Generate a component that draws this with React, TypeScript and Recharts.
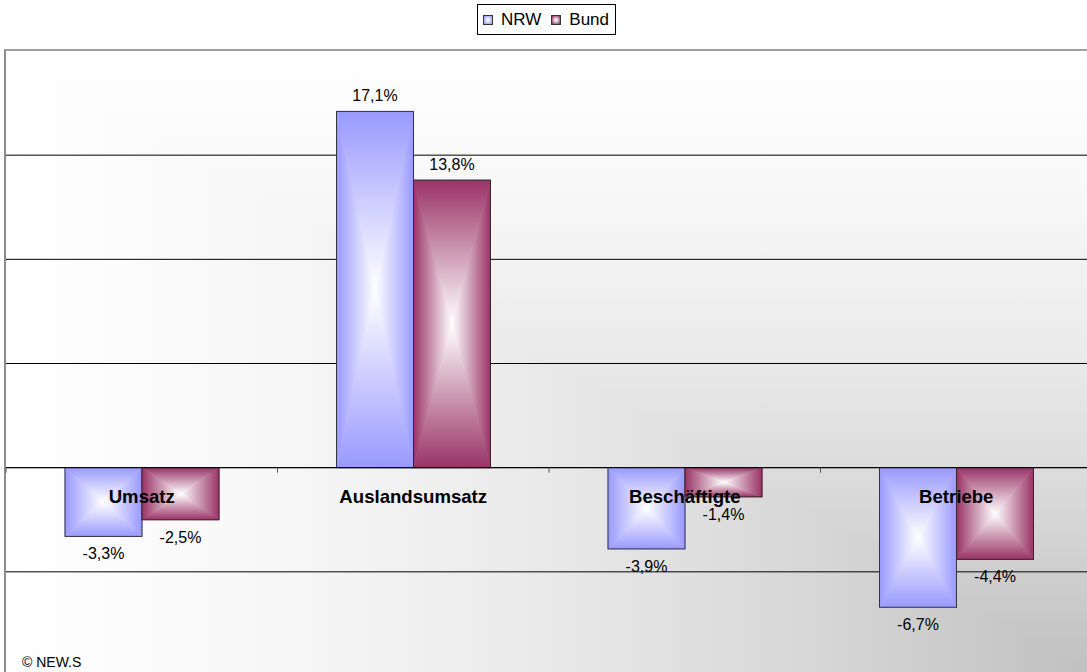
import React from 'react'
import {
  BarChart,
  Bar,
  XAxis,
  YAxis,
  CartesianGrid,
  ReferenceLine,
  LabelList,
} from 'recharts'

const categories = ['Umsatz', 'Auslandsumsatz', 'Beschäftigte', 'Betriebe']
const nrwValues = [-3.3, 17.1, -3.9, -6.7]
const bundValues = [-2.5, 13.8, -1.4, -4.4]
const seriesNames = ['NRW', 'Bund']
const yTicks = [-10, -5, 0, 5, 10, 15, 20]
const gridValues = [-5, 0, 5, 10, 15]

const COLORS: Record<string, string> = { NRW: '#9999ff', Bund: '#993366' }
const BORDERS: Record<string, string> = { NRW: '#333344', Bund: '#3a2430' }

const CHART_W = 1100
const CHART_H = 706
const XAXIS_H = 30
const MARGIN = { top: 51, left: 6, right: 8, bottom: 0 }
const PLOT_W = CHART_W - MARGIN.left - MARGIN.right
const PLOT_H = CHART_H - MARGIN.top - MARGIN.bottom - XAXIS_H
const Y_MIN = yTicks[0]
const Y_MAX = yTicks[yTicks.length - 1]
const ZERO_Y = MARGIN.top + (Y_MAX / (Y_MAX - Y_MIN)) * PLOT_H
const BAND = PLOT_W / categories.length
const FONT = '"Liberation Sans", Arial, sans-serif'

const chartData = categories.map((name, i) => ({
  name,
  NRW: nrwValues[i],
  Bund: bundValues[i],
}))

const fmt = (v: number) => v.toFixed(1).replace('.', ',') + '%'

// Excel-like "from center" fill: four triangles each with a linear gradient
function GradientBar(props: any) {
  const { x, y, width, height, series } = props
  if (width == null || height == null) return null
  const top = Math.min(y, y + height)
  const h = Math.abs(height)
  const cx = x + width / 2
  const cy = top + h / 2
  const id = series.toLowerCase()
  const tris = [
    { pts: `${x},${top} ${x + width},${top} ${cx},${cy}`, g: 't' },
    { pts: `${x},${top + h} ${x + width},${top + h} ${cx},${cy}`, g: 'b' },
    { pts: `${x},${top} ${x},${top + h} ${cx},${cy}`, g: 'l' },
    { pts: `${x + width},${top} ${x + width},${top + h} ${cx},${cy}`, g: 'r' },
  ]
  return (
    <g>
      {tris.map((t) => (
        <polygon
          key={t.g}
          points={t.pts}
          fill={`url(#${id}-${t.g})`}
          stroke={`url(#${id}-${t.g})`}
          strokeWidth={0.8}
        />
      ))}
      <rect x={x} y={top} width={width} height={h} fill="none" stroke={BORDERS[series]} strokeWidth={1} />
    </g>
  )
}

function ValueLabel(props: any) {
  const { x, y, width, height, value } = props
  const top = Math.min(y, y + height)
  const bottom = Math.max(y, y + height)
  const ty = value >= 0 ? top - 10 : bottom + 23
  return (
    <text x={x + width / 2} y={ty} textAnchor="middle" fontSize={16} fill="#000" fontFamily={FONT}>
      {fmt(value)}
    </text>
  )
}

function CategoryTick(props: any) {
  const { x, payload } = props
  return (
    <g>
      <line x1={x - BAND / 2} x2={x - BAND / 2} y1={ZERO_Y} y2={ZERO_Y + 5} stroke="#555" />
      <text
        x={x}
        y={ZERO_Y + 35}
        textAnchor="middle"
        fontSize={18.6}
        fontWeight="bold"
        fill="#000"
        fontFamily={FONT}
      >
        {payload.value}
      </text>
    </g>
  )
}

function gradDefs(name: string) {
  const id = name.toLowerCase()
  const c = COLORS[name]
  const dirs = [
    { g: 't', x1: 0, y1: 0, x2: 0, y2: 1 },
    { g: 'b', x1: 0, y1: 1, x2: 0, y2: 0 },
    { g: 'l', x1: 0, y1: 0, x2: 1, y2: 0 },
    { g: 'r', x1: 1, y1: 0, x2: 0, y2: 0 },
  ]
  return dirs.map((d) => (
    <linearGradient key={id + d.g} id={`${id}-${d.g}`} x1={d.x1} y1={d.y1} x2={d.x2} y2={d.y2}>
      <stop offset="0%" stopColor={c} />
      <stop offset="100%" stopColor="#ffffff" />
    </linearGradient>
  ))
}

const bgStops = '#ffffff 0%, #f7f7f7 25%, #e9e9e9 50%, #d6d6d6 75%, #c0c0c0 100%'

export default function App() {
  return (
    <div
      style={{
        position: 'absolute',
        left: 0,
        top: 0,
        width: 1087,
        height: 672,
        overflow: 'hidden',
        background: '#fff',
        fontFamily: FONT,
      }}
    >
      {/* plot frame and background */}
      <div
        style={{
          position: 'absolute',
          left: MARGIN.left - 2,
          top: MARGIN.top - 2,
          width: PLOT_W,
          height: PLOT_H,
          borderLeft: '2px solid #8c8c8c',
          borderTop: '2px solid #a0a0a0',
        }}
      >
        <div
          style={{
            position: 'absolute',
            inset: 0,
            background: `linear-gradient(to right, ${bgStops})`,
          }}
        />
        <div
          style={{
            position: 'absolute',
            inset: 0,
            background: `linear-gradient(to bottom, ${bgStops})`,
            clipPath: 'polygon(0 0, 100% 0, 100% 100%)',
          }}
        />
      </div>

      {/* legend */}
      <div
        style={{
          position: 'absolute',
          left: 477,
          top: 4,
          height: 29,
          border: '1px solid #000',
          background: '#fff',
          display: 'flex',
          alignItems: 'center',
          padding: '0 6px 0 5px',
          fontSize: 17,
          color: '#000',
        }}
      >
        {seriesNames.map((s, i) => (
          <span key={s} style={{ display: 'flex', alignItems: 'center', marginLeft: i ? 10 : 0 }}>
            <span
              style={{
                display: 'inline-block',
                width: 8,
                height: 8,
                border: '1px solid #333',
                background: `radial-gradient(#ffffff 10%, ${COLORS[s]} 90%)`,
                marginRight: 8,
              }}
            />
            {s}
          </span>
        ))}
      </div>

      <div style={{ position: 'absolute', left: 0, top: 0 }}>
        <BarChart width={CHART_W} height={CHART_H} data={chartData} margin={MARGIN} barGap={0}>
          <defs>
            {gradDefs('NRW')}
            {gradDefs('Bund')}
          </defs>
          <CartesianGrid
            vertical={false}
            horizontalValues={gridValues}
            stroke="#000"
            strokeWidth={1}
          />
          <YAxis hide domain={[Y_MIN, Y_MAX]} ticks={yTicks} type="number" />
          <XAxis
            dataKey="name"
            height={XAXIS_H}
            axisLine={false}
            tickLine={false}
            interval={0}
            tick={CategoryTick}
          />
          <ReferenceLine y={0} stroke="#000" strokeWidth={1} />
          <Bar
            dataKey="NRW"
            barSize={77}
            isAnimationActive={false}
            shape={(p: any) => <GradientBar {...p} series="NRW" />}
          >
            <LabelList dataKey="NRW" content={ValueLabel} />
          </Bar>
          <Bar
            dataKey="Bund"
            barSize={77}
            isAnimationActive={false}
            shape={(p: any) => <GradientBar {...p} series="Bund" />}
          >
            <LabelList dataKey="Bund" content={ValueLabel} />
          </Bar>
        </BarChart>
      </div>

      <div style={{ position: 'absolute', left: 22, top: 654, fontSize: 14, color: '#000' }}>
        © NEW.S
      </div>
    </div>
  )
}
